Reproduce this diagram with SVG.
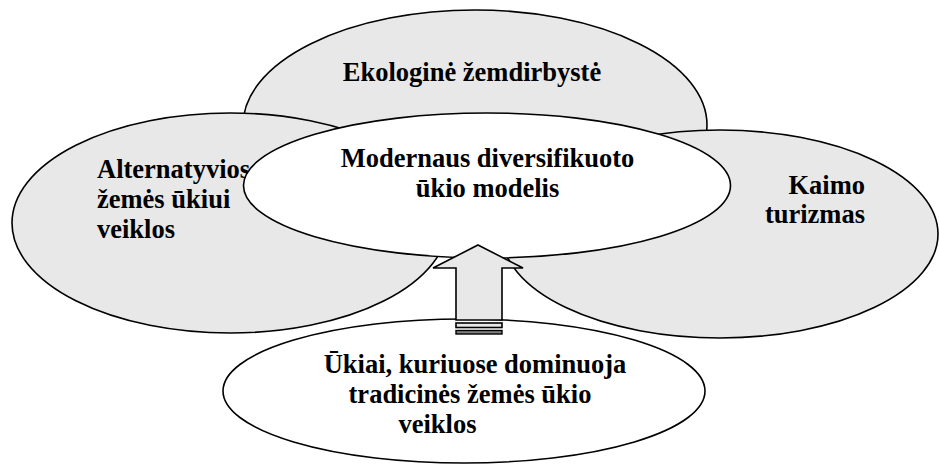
<svg xmlns="http://www.w3.org/2000/svg" width="939" height="464" viewBox="0 0 939 464">
<style>
.g{fill:#e8e8e8;stroke:#000;stroke-width:1.6}
.w{fill:#fff;stroke:#000;stroke-width:1.6}
.t{font-family:"Liberation Serif","Times New Roman",serif;font-weight:bold;font-size:26.5px;fill:#000}
.c{text-anchor:middle}
.e{text-anchor:end}
</style>
<rect width="939" height="464" fill="#fff"/>
<g id="ekologine">
<ellipse class="g" cx="475" cy="125" rx="232" ry="115"/>
<text class="t c" x="472" y="81">Ekologinė žemdirbystė</text>
</g>
<g id="alternatyvios">
<ellipse class="g" cx="230" cy="223" rx="218" ry="110"/>
<text class="t" x="97" y="178">Alternatyvios</text>
<text class="t" x="97" y="208">žemės ūkiui</text>
<text class="t" x="97" y="238">veiklos</text>
</g>
<g id="kaimo">
<ellipse class="g" cx="720" cy="234" rx="218" ry="104"/>
<text class="t e" x="865" y="194">Kaimo</text>
<text class="t e" x="865" y="223">turizmas</text>
</g>
<g id="modernaus">
<ellipse class="w" cx="487" cy="185.5" rx="243.5" ry="72.5"/>
<text class="t c" x="487.5" y="167">Modernaus diversifikuoto</text>
<text class="t c" x="487.5" y="197">ūkio modelis</text>
</g>
<g id="ukiai">
<ellipse class="w" cx="464" cy="391" rx="241" ry="72"/>
<text class="t c" x="475" y="373">Ūkiai, kuriuose dominuoja</text>
<text class="t c" x="470" y="403">tradicinės žemės ūkio</text>
<text class="t c" x="437.5" y="433">veiklos</text>
</g>
<g id="connectors">
<path class="g" d="M478,245 L523,268 L502,268 L502,320 L456,320 L456,268 L433,268 Z"/>
<rect class="g" x="456" y="323" width="46" height="4.5"/>
<rect x="456" y="330.5" width="46" height="3.5" fill="#808080" stroke="#000" stroke-width="1.4"/>
</g>
</svg>
